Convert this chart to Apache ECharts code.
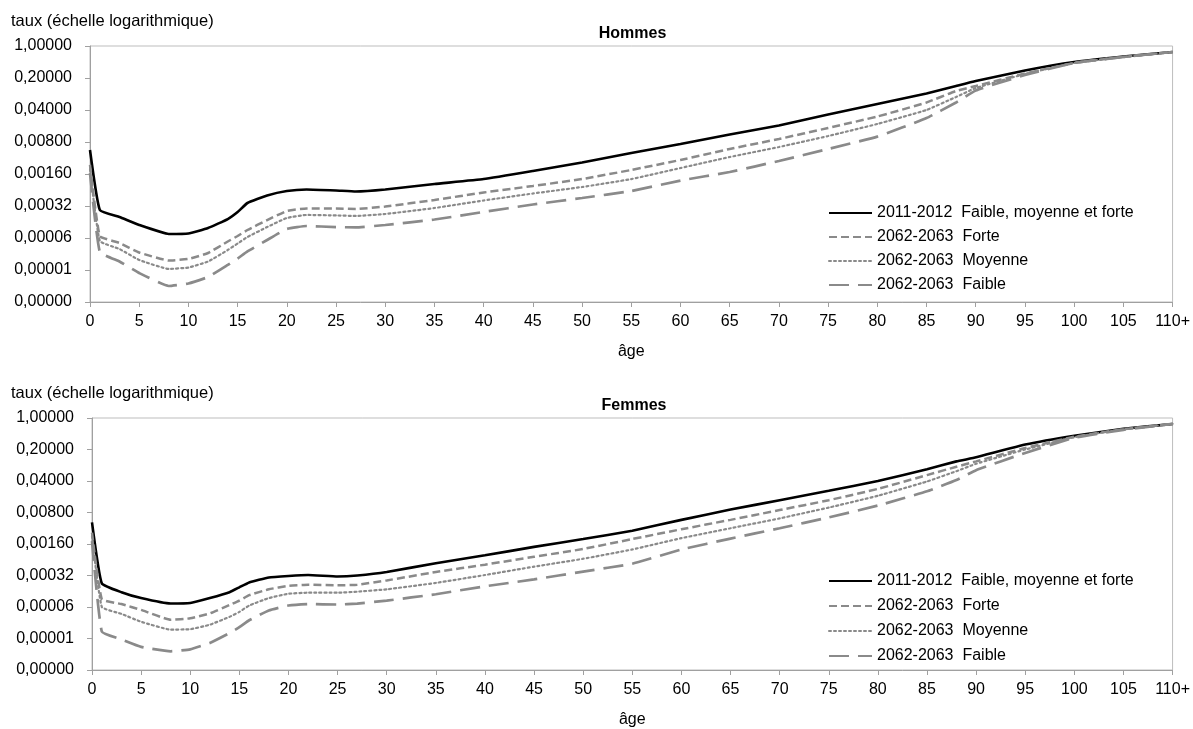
<!DOCTYPE html>
<html>
<head>
<meta charset="utf-8">
<script src="https://cdn.jsdelivr.net/npm/echarts@6/dist/echarts.min.js"></script>
<style>
  html, body { margin: 0; padding: 0; background: #fff; }
  #chart { width: 1193px; height: 729px; }
</style>
</head>
<body>
<div id="chart"></div>
<script>
// Âges (la dernière classe est « 110+ »)
const ages = [0,1,3,5,8,10,12,14,15,16,18,20,22,25,27,30,35,40,45,50,55,60,65,70,75,80,85,88,90,95,100,105,110];

// Quotients de mortalité – hommes
const hommes2011 = [0.00535,0.000262,0.000184,0.000123,0.0000783,0.0000803,0.000106,0.000166,0.000237,0.000372,0.000543,0.000680,0.000734,0.000698,0.000664,0.000734,0.000968,0.00124,0.00186,0.00285,0.00460,0.00723,0.0117,0.0183,0.0319,0.0541,0.0917,0.134,0.172,0.292,0.447,0.590,0.739];
const hommesForte = [0.00252,0.0000708,0.0000498,0.0000309,0.0000206,0.0000223,0.0000301,0.0000537,0.0000708,0.0000957,0.000158,0.000249,0.000282,0.000282,0.000275,0.000312,0.000433,0.000631,0.000875,0.00124,0.00196,0.00324,0.00563,0.00930,0.0162,0.0288,0.0583,0.104,0.134,0.251,0.425,0.575,0.739];
const hommesMoyenne = [0.00206,0.0000551,0.0000368,0.0000212,0.0000135,0.0000145,0.0000196,0.0000350,0.0000485,0.0000673,0.000111,0.000175,0.000204,0.000199,0.000194,0.000214,0.000289,0.000422,0.000600,0.000832,0.00124,0.00216,0.00376,0.00622,0.0108,0.0198,0.0400,0.0769,0.121,0.245,0.425,0.575,0.739];
const hommesFaible = [0.00168,0.0000317,0.0000196,0.0000110,0.00000572,0.00000649,0.00000900,0.0000165,0.0000228,0.0000325,0.0000579,0.000101,0.000117,0.000111,0.000109,0.000123,0.000162,0.000237,0.000345,0.000479,0.000680,0.00115,0.00177,0.00308,0.00563,0.0105,0.0267,0.0583,0.107,0.233,0.425,0.575,0.739];

// Quotients de mortalité – femmes
const femmes2011 = [0.00484,0.000214,0.000136,0.000101,0.0000763,0.0000783,0.000101,0.000136,0.000175,0.000225,0.000289,0.000312,0.000328,0.000304,0.000320,0.000382,0.000600,0.000897,0.00138,0.00206,0.00316,0.00549,0.00930,0.0150,0.0242,0.0400,0.0731,0.109,0.134,0.257,0.404,0.575,0.739];
const femmesForte = [0.00285,0.0000957,0.0000744,0.0000551,0.0000333,0.0000359,0.0000462,0.0000708,0.0000888,0.000117,0.000158,0.000189,0.000199,0.000194,0.000199,0.000249,0.000382,0.000557,0.000832,0.00124,0.00206,0.00340,0.00549,0.00907,0.0150,0.0267,0.0541,0.0830,0.109,0.216,0.385,0.561,0.739];
const femmesMoyenne = [0.00239,0.0000640,0.0000450,0.0000301,0.0000201,0.0000206,0.0000259,0.0000387,0.0000498,0.0000690,0.000101,0.000126,0.000133,0.000133,0.000140,0.000158,0.000219,0.000328,0.000503,0.000752,0.00121,0.00216,0.00358,0.00592,0.0103,0.0188,0.0390,0.0661,0.0964,0.200,0.375,0.561,0.739];
const femmesFaible = [0.00186,0.0000182,0.0000122,0.00000835,0.00000666,0.00000736,0.0000102,0.0000169,0.0000228,0.0000325,0.0000537,0.0000690,0.0000744,0.0000726,0.0000763,0.0000888,0.000123,0.000184,0.000262,0.000391,0.000585,0.00121,0.00211,0.00358,0.00622,0.0114,0.0236,0.0421,0.0696,0.168,0.366,0.547,0.739];

// Libellés
const seriesNames = [
  '2011-2012  Faible, moyenne et forte',
  '2062-2063  Forte',
  '2062-2063  Moyenne',
  '2062-2063  Faible'
];
const panelTitles = ['Hommes', 'Femmes'];
const yAxisTitle = 'taux (échelle logarithmique)';
const xAxisTitle = 'âge';
const yTicks = [1, 0.2, 0.04, 0.008, 0.0016, 0.00032, 0.000064, 0.0000128, 0.00000256];

const FONT = 'Liberation Sans, Arial, sans-serif';
const GREY = '#8a8a8a';

const lineStyles = [
  { color: '#000000', width: 2.6, type: 'solid' },
  { color: GREY, width: 2.5, type: [8, 4] },
  { color: GREY, width: 2.2, type: [2, 3], cap: 'round' },
  { color: GREY, width: 2.7, type: [20, 9] }
];

const panels = [
  { top: 46, left: 90, right: 18, data: [hommes2011, hommesForte, hommesMoyenne, hommesFaible], legendTop: 200, legendGap: 8 },
  { top: 418, left: 92, right: 17, data: [femmes2011, femmesForte, femmesMoyenne, femmesFaible], legendTop: 568, legendGap: 9 }
];
const PLOT_H = 256;

function pairs(values) {
  return ages.map((a, i) => [a, values[i]]);
}

const grid = [], xAxis = [], yAxis = [], series = [], legend = [], graphic = [];

panels.forEach((p, k) => {
  grid.push({
    left: p.left, right: p.right, top: p.top, height: PLOT_H,
    show: true, borderColor: '#bdbdbd', borderWidth: 1, backgroundColor: 'transparent'
  });
  xAxis.push({
    gridIndex: k, type: 'value', min: 0, max: 110, interval: 5,
    name: xAxisTitle, nameLocation: 'middle', nameGap: 42,
    nameTextStyle: { fontFamily: FONT, fontSize: 16, color: '#000' },
    axisLine: { show: true, lineStyle: { color: '#a0a0a0', width: 1 } },
    axisTick: { show: true, length: 5, lineStyle: { color: '#a0a0a0' } },
    axisLabel: {
      fontFamily: FONT, fontSize: 16, color: '#000', margin: 12,
      formatter: v => (v === 110 ? '110+' : String(v))
    },
    splitLine: { show: false }
  });
  yAxis.push({
    gridIndex: k, type: 'log', logBase: 5, min: yTicks[yTicks.length - 1], max: yTicks[0],
    splitNumber: 8,
    axisLine: { show: true, lineStyle: { color: '#a0a0a0', width: 1 } },
    axisTick: { show: true, length: 5, lineStyle: { color: '#a0a0a0' } },
    axisLabel: {
      fontFamily: FONT, fontSize: 16, color: '#000', margin: 18,
      formatter: v => v.toFixed(5).replace('.', ',')
    },
    splitLine: { show: false }
  });
  p.data.forEach((vals, j) => {
    series.push({
      name: seriesNames[j], type: 'line', xAxisIndex: k, yAxisIndex: k,
      data: pairs(vals), symbol: 'none', showSymbol: false,
      smooth: 0.12,
      lineStyle: lineStyles[j], itemStyle: { color: lineStyles[j].color },
      z: 2 + j, silent: true
    });
  });
  legend.push({
    data: seriesNames, orient: 'vertical', left: 823, top: p.legendTop,
    itemWidth: 43, itemHeight: 16, itemGap: p.legendGap,
    itemStyle: { opacity: 0 },
    textStyle: { fontFamily: FONT, fontSize: 16, color: '#000' },
    selectedMode: false
  });
  graphic.push({
    type: 'text', x: 11, y: p.top - 25,
    style: { text: yAxisTitle, font: '16.5px ' + FONT, fill: '#000', verticalAlign: 'middle' }
  });
  graphic.push({
    type: 'text', x: (p.left + 1193 - p.right) / 2, y: p.top - 12,
    style: { text: panelTitles[k], font: 'bold 16px ' + FONT, fill: '#000', align: 'center', verticalAlign: 'middle' }
  });
});

const chart = echarts.init(document.getElementById('chart'), null, { renderer: 'canvas' });
chart.setOption({
  animation: false,
  backgroundColor: '#ffffff',
  grid, xAxis, yAxis, series, legend, graphic
});
</script>
</body>
</html>
